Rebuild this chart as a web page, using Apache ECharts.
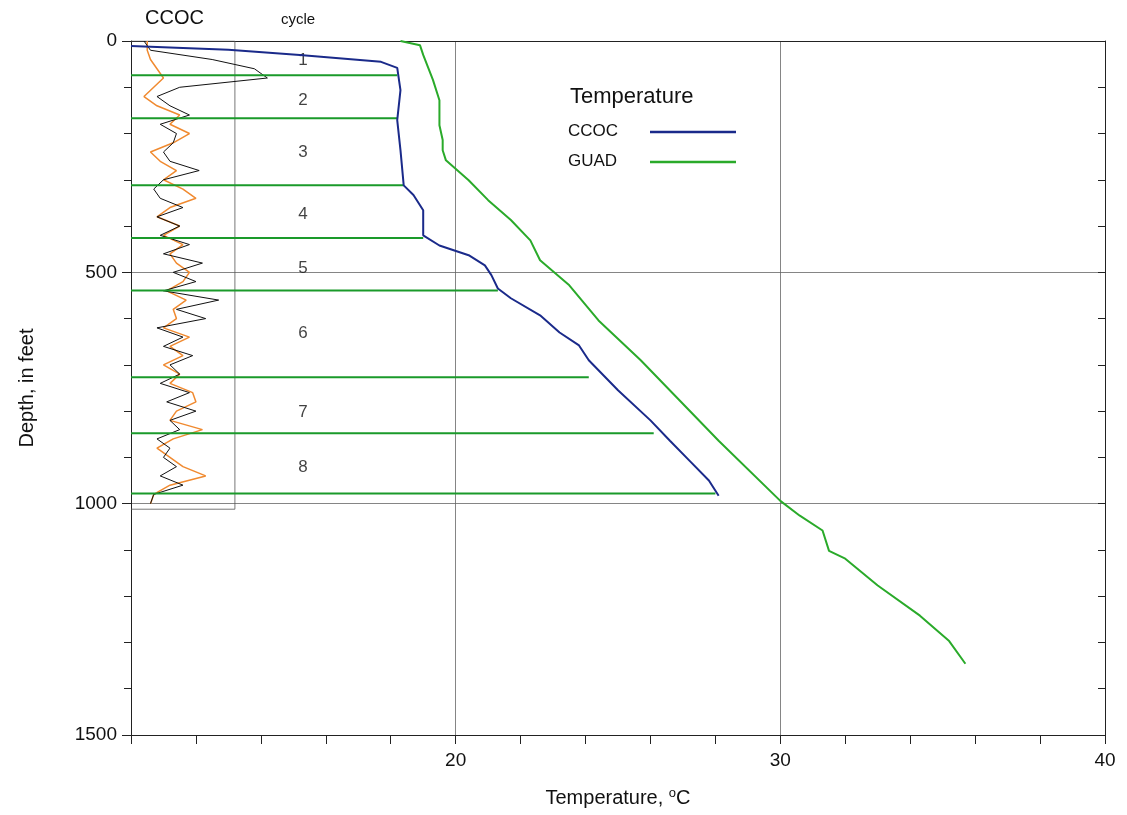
<!DOCTYPE html>
<html><head><meta charset="utf-8">
<script src="https://cdn.jsdelivr.net/npm/echarts@6/dist/echarts.min.js"></script>
<style>html,body{margin:0;background:#fff}#chart{width:1127px;height:815px}</style>
</head><body><div id="chart"></div>
<script>
// 温度曲线 [温度, 深度]
const ccocTemp = [[10.0,11],[13.0,19],[15.2,30],[17.7,45],[18.2,58],[18.3,106],[18.2,171],[18.3,236],[18.4,312],[18.7,333],[19.0,366],[19.0,420],[19.5,442],[20.4,463],[20.9,485],[21.1,506],[21.3,535],[21.7,556],[22.6,593],[23.2,630],[23.8,658],[24.1,690],[25.0,755],[26.0,820],[26.6,864],[27.2,907],[27.8,950],[28.1,983]];
const guadTemp = [[18.3,0],[18.9,9],[19.0,30],[19.3,84],[19.5,128],[19.5,182],[19.6,214],[19.6,236],[19.7,258],[20.4,301],[21.0,344],[21.7,387],[22.3,431],[22.6,474],[23.5,528],[24.4,604],[25.7,690],[26.9,777],[28.1,864],[30.0,994],[30.6,1026],[31.3,1058],[31.5,1102],[32.0,1119],[33.0,1177],[34.3,1242],[35.2,1297],[35.7,1346]];
// 旋回边界: 深度 与 右端温度
const cycleDepths = [74,167,312,426,539,727,848,978];
const cycleEnds = [18.2,18.2,18.4,19.0,21.3,24.1,26.1,28.0];
const cycleNames = ['1','2','3','4','5','6','7','8'];
const cycleLabelDepths = [41,128,240,374,491,632,803,922];
// CCOC 测井曲线（每 20 ft）
const logDepths = Array.from({length:51},(_, i) => i*20);
const logBlack = [10.4,10.6,12.5,13.8,14.2,11.5,10.8,11.2,11.8,10.9,11.4,11.3,11.0,11.2,12.1,11.0,10.7,10.9,11.6,10.8,11.5,10.9,11.8,11.0,12.2,11.3,12.0,11.0,12.7,11.4,12.3,10.8,11.6,11.0,11.9,11.2,11.5,10.9,11.8,11.1,12.0,11.2,11.5,10.8,11.2,11.0,11.4,10.9,11.6,10.7,10.6];
const logOrange = [10.5,10.5,10.6,10.8,11.0,10.7,10.4,10.8,11.5,11.2,11.8,11.3,10.6,10.9,11.4,11.0,11.6,12.0,11.2,10.8,11.5,11.0,11.6,11.2,11.4,11.8,11.6,11.1,11.7,11.3,11.4,11.0,11.8,11.2,11.6,11.0,11.5,11.2,11.9,12.0,11.4,11.2,12.2,11.3,10.8,11.2,11.6,12.3,11.2,10.7,10.6];
const stripBox = [[10,0],[13.2,0],[13.2,1012],[10,1012]];

const chart = echarts.init(document.getElementById('chart'));
const font = 'Helvetica, "Liberation Sans", Arial, sans-serif';
const series = [];
series.push({type:'line', data: stripBox, symbol:'none', lineStyle:{color:'#555', width:0.8}, silent:true});
series.push({type:'line', data: logDepths.map((d,i)=>[logOrange[i],d]), symbol:'none', lineStyle:{color:'#f08a30', width:1.5}});
series.push({type:'line', data: logDepths.map((d,i)=>[logBlack[i],d]), symbol:'none', lineStyle:{color:'#111', width:1}});
cycleDepths.forEach((d,i) => {
  series.push({type:'line', data:[[10,d],[cycleEnds[i],d]], symbol:'none', lineStyle:{color:'#1a9a2a', width:2}});
});
series.push({type:'line', data: ccocTemp, symbol:'none', lineStyle:{color:'#1a2a8a', width:2}});
series.push({type:'line', data: guadTemp, symbol:'none', lineStyle:{color:'#2aaa2a', width:2}});
series.push({type:'scatter', symbolSize:0, data: cycleLabelDepths.map((d,i)=>({value:[15.3,d], name:cycleNames[i]})),
  label:{show:true, position:'inside', formatter:p=>p.name, fontSize:17, color:'#111', fontFamily:font}});

chart.setOption({
  animation:false,
  grid:{left:131, right:22, top:41, bottom:80},
  xAxis:[
    {type:'value', min:10, max:40, interval:10, position:'bottom',
      axisLine:{onZero:false, lineStyle:{color:'#222'}}, axisTick:{inside:false, length:9, lineStyle:{color:'#222'}},
      minorTick:{show:true, splitNumber:5, length:9, lineStyle:{color:'#222'}},
      axisLabel:{formatter:v=>v===10?'':String(v), fontSize:19, color:'#111', margin:16, fontFamily:font},
      splitLine:{show:true, lineStyle:{color:'#666', width:0.8}},
      name:'Temperature, {sup|o}C', nameLocation:'middle', nameGap:52,
      nameTextStyle:{fontSize:20, color:'#111', fontFamily:font, rich:{sup:{fontSize:13, verticalAlign:'top', padding:[0,0,10,0]}}}},
    {type:'value', min:10, max:40, position:'top', axisLine:{onZero:false, lineStyle:{color:'#222'}}, axisTick:{show:false}, minorTick:{show:false}, axisLabel:{show:false}, splitLine:{show:false}}
  ],
  yAxis:[
    {type:'value', min:0, max:1500, interval:500, inverse:true,
      axisLine:{onZero:false, lineStyle:{color:'#222'}}, axisTick:{inside:false, length:9, lineStyle:{color:'#222'}},
      minorTick:{show:true, splitNumber:5, length:7, lineStyle:{color:'#222'}},
      axisLabel:{formatter:v=>String(v), fontSize:19, color:'#111', margin:14, fontFamily:font},
      splitLine:{show:true, lineStyle:{color:'#666', width:0.8}},
      name:'Depth, in feet', nameLocation:'middle', nameGap:94, nameRotate:90,
      nameTextStyle:{fontSize:20, color:'#111', fontFamily:font}},
    {type:'value', min:0, max:1500, interval:500, inverse:true, position:'right',
      axisLine:{onZero:false, lineStyle:{color:'#222'}}, axisTick:{inside:true, length:7, lineStyle:{color:'#222'}},
      minorTick:{show:true, splitNumber:5, length:7, lineStyle:{color:'#222'}},
      axisLabel:{show:false}, splitLine:{show:false}}
  ],
  series: series,
  graphic:[
    {type:'text', left:145, top:8, style:{text:'CCOC', fontSize:20, fill:'#111', fontFamily:font}},
    {type:'text', left:281, top:12, style:{text:'cycle', fontSize:15, fill:'#111', fontFamily:font}},
    {type:'text', left:570, top:86, style:{text:'Temperature', fontSize:22, fill:'#111', fontFamily:font}},
    {type:'text', left:568, top:123, style:{text:'CCOC', fontSize:17, fill:'#111', fontFamily:font}},
    {type:'text', left:568, top:153, style:{text:'GUAD', fontSize:17, fill:'#111', fontFamily:font}},
    {type:'line', shape:{x1:650, y1:132, x2:736, y2:132}, style:{stroke:'#1a2a8a', lineWidth:2.5}},
    {type:'line', shape:{x1:650, y1:162, x2:736, y2:162}, style:{stroke:'#2aaa2a', lineWidth:2.5}}
  ]
});
</script></body></html>
